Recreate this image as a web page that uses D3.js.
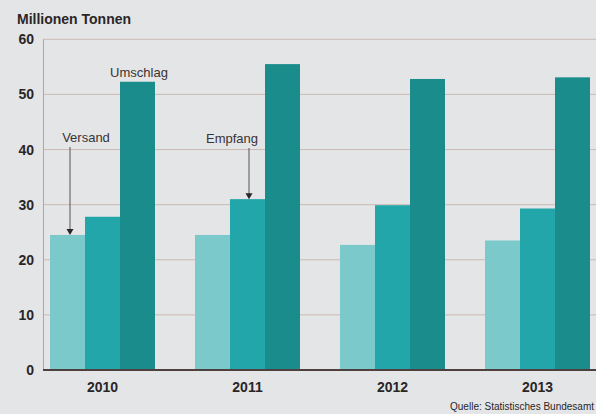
<!DOCTYPE html>
<html><head><meta charset="utf-8">
<script src="https://cdn.jsdelivr.net/npm/d3@7"></script>
<style>body{margin:0;background:#e4e5e7;}svg{display:block;font-family:"Liberation Sans",Arial,sans-serif;}</style>
</head><body>
<svg id="c" width="596" height="414"></svg>
<script>
const years = ["2010","2011","2012","2013"];
const seriesNames = ["Versand","Empfang","Umschlag"];
const versand = [24.5, 24.5, 22.7, 23.5];
const empfang = [27.8, 31.0, 29.9, 29.3];
const umschlag = [52.3, 55.5, 52.8, 53.1];
const yTicks = [0,10,20,30,40,50,60];
const colors = ["#7cc9cc","#22a6a9","#1a8c8c"];

const series = [versand, empfang, umschlag];
const svg = d3.select("#c");
svg.append("rect").attr("width",596).attr("height",414).attr("fill","#e4e5e7");

const y = d3.scaleLinear().domain([0,60]).range([370,39.3]);
const x = d3.scaleBand().domain(years).range([30,610]).paddingInner(40/145).paddingOuter(20/145);
const xs = d3.scaleBand().domain(seriesNames).range([0,x.bandwidth()]);

// grid
svg.append("g").selectAll("line").data(yTicks.filter(d=>d>0)).join("line")
  .attr("x1",43).attr("x2",596).attr("y1",d=>y(d)).attr("y2",d=>y(d))
  .attr("stroke","#cbbab3").attr("stroke-width",1);
svg.append("line").attr("x1",43.5).attr("x2",43.5).attr("y1",y(60)).attr("y2",y(0))
  .attr("stroke","#b9a49c").attr("stroke-width",1);

// bars
const g = svg.append("g");
years.forEach((yr,i)=>{
  series.forEach((s,j)=>{
    g.append("rect").attr("x",x(yr)+xs(seriesNames[j])).attr("width",xs.bandwidth())
      .attr("y",y(s[i])).attr("height",y(0)-y(s[i])).attr("fill",colors[j]);
  });
});

// baseline
svg.append("line").attr("x1",43).attr("x2",596).attr("y1",y(0)).attr("y2",y(0))
  .attr("stroke","#4e403e").attr("stroke-width",2);

// y tick labels
svg.append("g").selectAll("text").data(yTicks).join("text")
  .attr("x",34).attr("y",d=>y(d)+5).attr("text-anchor","end")
  .attr("font-size",14).attr("font-weight","bold").attr("fill","#2a2526").text(d=>d);

// x labels
svg.append("g").selectAll("text").data(years).join("text")
  .attr("x",d=>x(d)+x.bandwidth()/2).attr("y",392).attr("text-anchor","middle")
  .attr("font-size",14).attr("font-weight","bold").attr("fill","#2a2526").text(d=>d);

// title
svg.append("text").attr("x",17).attr("y",24).attr("font-size",14).attr("font-weight","bold")
  .attr("fill","#2a2526").text("Millionen Tonnen");

// annotations
const ann = [
  {label:"Versand", yi:0, si:0, tx:86, ty:142, ax:70},
  {label:"Empfang", yi:1, si:1, tx:232, ty:143, ax:249},
  {label:"Umschlag", yi:0, si:2, tx:139, ty:77, ax:null}
];
ann.forEach(a=>{
  svg.append("text").attr("x",a.tx).attr("y",a.ty).attr("text-anchor","middle")
    .attr("font-size",13).attr("fill","#3a3334").text(a.label);
  if(a.ax!==null){
    const top = y(series[a.si][a.yi]);
    svg.append("line").attr("x1",a.ax).attr("x2",a.ax).attr("y1",a.ty+5).attr("y2",top-4)
      .attr("stroke","#5a5050").attr("stroke-width",1);
    svg.append("path").attr("d",`M${a.ax-3.5},${top-6}L${a.ax+3.5},${top-6}L${a.ax},${top}Z`).attr("fill","#2a2526");
  }
});

// source
svg.append("text").attr("x",594).attr("y",410).attr("text-anchor","end")
  .attr("font-size",10).attr("fill","#2a2526").text("Quelle: Statistisches Bundesamt");
</script>
</body></html>
